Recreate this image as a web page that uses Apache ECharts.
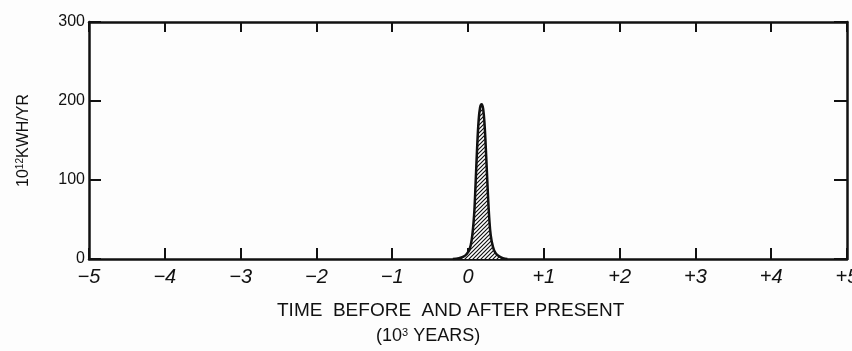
<!DOCTYPE html>
<html>
<head>
<meta charset="utf-8">
<script src="https://cdn.jsdelivr.net/npm/echarts@6/dist/echarts.min.js"></script>
<style>
  html, body { margin: 0; padding: 0; background: #fdfdfd; }
  #chart { width: 852px; height: 351px; }
</style>
</head>
<body>
<div id="chart"></div>
<script>
// time in 10^3 years relative to present, production in 10^12 kWh/yr
const years = [-0.2, -0.12, -0.06, -0.02, 0.02, 0.05, 0.08, 0.1, 0.12, 0.14, 0.16, 0.18, 0.2, 0.22, 0.24, 0.26, 0.28, 0.3, 0.33, 0.36, 0.4, 0.46, 0.52]
const output = [0, 1, 3, 6, 12, 25, 55, 95, 140, 175, 192, 196, 190, 168, 130, 88, 52, 30, 15, 8, 4, 1, 0]
const xTicks = [-5, -4, -3, -2, -1, 0, 1, 2, 3, 4, 5]
const yTicks = [0, 100, 200, 300]

const ink = '#111'
const font = 'Liberation Sans, Arial, sans-serif'

// diagonal hatching for the area under the curve
const hatch = document.createElement('canvas')
hatch.width = 4
hatch.height = 4
const hc = hatch.getContext('2d')
hc.fillStyle = '#fff'
hc.fillRect(0, 0, 4, 4)
hc.strokeStyle = '#111'
hc.lineWidth = 1.2
hc.beginPath()
hc.moveTo(0, 4); hc.lineTo(4, 0)
hc.moveTo(-1, 1); hc.lineTo(1, -1)
hc.moveTo(3, 5); hc.lineTo(5, 3)
hc.stroke()

const fmtX = (v) => (v < 0 ? '\u2212' + Math.abs(v) : v > 0 ? '+' + v : '0')

const chart = echarts.init(document.getElementById('chart'))
const frameLine = { show: true, onZero: false, lineStyle: { color: ink, width: 2.5 } }
const xMin = xTicks[0]
const xMax = xTicks[xTicks.length - 1]
const yMax = yTicks[yTicks.length - 1]

chart.setOption({
  animation: false,
  grid: { left: 89, right: 5, top: 22, bottom: 92, outerBoundsMode: 'none', containLabel: false },
  xAxis: [
    {
      type: 'value', min: xMin, max: xMax, interval: 1,
      axisLine: frameLine,
      axisTick: { inside: true, length: 11, lineStyle: { color: ink, width: 2 } },
      splitLine: { show: false },
      axisLabel: {
        color: ink, fontSize: 20, fontStyle: 'italic', fontFamily: font, margin: 8,
        formatter: fmtX,
      },
    },
    {
      type: 'value', position: 'top', min: xMin, max: xMax, interval: 1,
      axisLine: frameLine,
      axisTick: { inside: true, length: 10, lineStyle: { color: ink, width: 2 } },
      axisLabel: { show: false },
      splitLine: { show: false },
    },
  ],
  yAxis: [
    {
      type: 'value', min: 0, max: yMax, interval: 100,
      axisLine: frameLine,
      axisTick: { inside: true, length: 12, lineStyle: { color: ink, width: 2 } },
      splitLine: { show: false },
      axisLabel: { color: ink, fontSize: 16, fontFamily: font, margin: 4 },
      name: '10{sup|12}KWH/YR',
      nameLocation: 'middle',
      nameRotate: 90,
      nameGap: 56,
      nameTextStyle: {
        color: ink, fontSize: 16, fontFamily: font,
        rich: { sup: { fontSize: 10, verticalAlign: 'top', padding: [0, 0, 8, 0], color: ink, fontFamily: font } },
      },
    },
    {
      type: 'value', position: 'right', min: 0, max: yMax, interval: 100,
      axisLine: frameLine,
      axisTick: { inside: true, length: 13, lineStyle: { color: ink, width: 2 } },
      axisLabel: { show: false },
      splitLine: { show: false },
    },
  ],
  graphic: [
    {
      type: 'text', left: 277, top: 301,
      style: { text: 'TIME  BEFORE  AND AFTER PRESENT', fill: ink, fontSize: 19, fontFamily: font },
    },
    {
      type: 'text', left: 376, top: 327,
      style: {
        text: '(10{sup|3} YEARS)', fill: ink, fontSize: 18, fontFamily: font,
        rich: { sup: { fontSize: 11, verticalAlign: 'top', padding: [0, 0, 7, 0], fill: ink } },
      },
    },
  ],
  series: [
    {
      type: 'line',
      data: years.map((x, i) => [x, output[i]]),
      smooth: 0.4,
      showSymbol: false,
      lineStyle: { color: ink, width: 2.5 },
      areaStyle: { color: { image: hatch, repeat: 'repeat' }, opacity: 1 },
      z: 1,
    },
  ],
})
</script>
</body>
</html>
